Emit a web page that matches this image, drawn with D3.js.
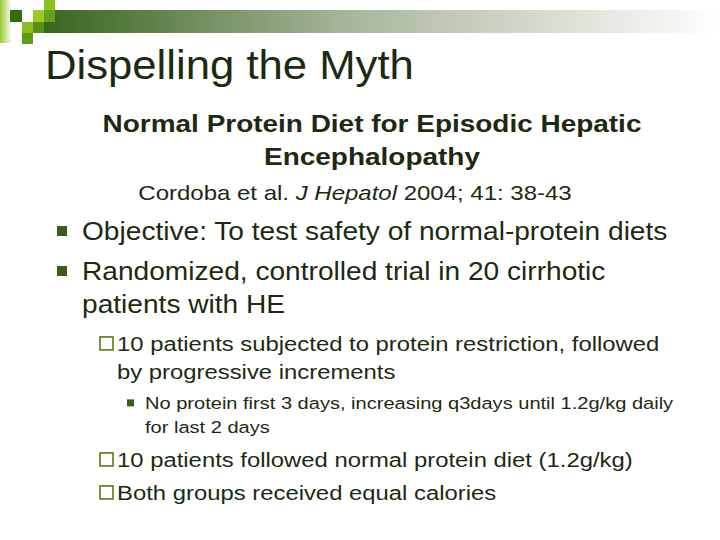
<!DOCTYPE html><html><head><meta charset="utf-8"><script src="https://cdn.jsdelivr.net/npm/d3@7"></script>
<style>body{margin:0;background:#fff}</style></head><body><script>
const titleText = "Dispelling the Myth";
const subtitleLines = ["Normal Protein Diet for Episodic Hepatic", "Encephalopathy"];
const citationParts = [["Cordoba et al. ", "normal"], ["J Hepatol", "italic"], [" 2004; 41: 38-43", "normal"]];
const bulletLines = [
  {lvl:1, bullet:true, text:"Objective: To test safety of normal-protein diets", y:240},
  {lvl:1, bullet:true, text:"Randomized, controlled trial in 20 cirrhotic", y:280},
  {lvl:1, bullet:false, text:"patients with HE", y:313},
  {lvl:2, bullet:true, text:"10 patients subjected to protein restriction, followed", y:351},
  {lvl:2, bullet:false, text:"by progressive increments", y:379},
  {lvl:3, bullet:true, text:"No protein first 3 days, increasing q3days until 1.2g/kg daily", y:409},
  {lvl:3, bullet:false, text:"for last 2 days", y:433},
  {lvl:2, bullet:true, text:"10 patients followed normal protein diet (1.2g/kg)", y:467},
  {lvl:2, bullet:true, text:"Both groups received equal calories", y:500}
];
const svg = d3.select("body").append("svg").attr("width",720).attr("height",540).style("font-family","Liberation Sans, Arial, sans-serif");
const defs = svg.append("defs");
const g1 = defs.append("linearGradient").attr("id","bar");
g1.append("stop").attr("offset","0").attr("stop-color","#35641a");
g1.append("stop").attr("offset","0.45").attr("stop-color","#a7b49a");
g1.append("stop").attr("offset","1").attr("stop-color","#ffffff");
const g2 = defs.append("linearGradient").attr("id","side");
g2.append("stop").attr("offset","0").attr("stop-color","#9acd32");
g2.append("stop").attr("offset","1").attr("stop-color","#ffffff");
svg.append("rect").attr("x",36).attr("y",10).attr("width",684).attr("height",23).attr("fill","url(#bar)");
svg.append("rect").attr("x",0).attr("y",0).attr("width",12).attr("height",43).attr("fill","url(#side)");
const sq=[[10,10,12,12,"#356a10"],[33,10,11,12,"#99cc22"],[44,0,11,10,"#8cc21e"],[44,10,11,12,"#66a020"],[22,22,11,11,"#88c020"],[33,22,11,11,"#5a9018"],[22,33,11,11,"#5f9a18"]];
svg.selectAll("rect.sq").data(sq).join("rect").attr("class","sq").attr("x",d=>d[0]).attr("y",d=>d[1]).attr("width",d=>d[2]).attr("height",d=>d[3]).attr("fill",d=>d[4]);
const ink="#1c2a12";
function T(x,y,sx){return svg.append("g").attr("transform",`translate(${x},${y}) scale(${sx},1)`).append("text").attr("fill",ink);}
T(45,79,1.065).attr("font-size",41).text(titleText);
subtitleLines.forEach((d,i)=>T(372,132+i*33,1.19).attr("text-anchor","middle").attr("font-size",23.5).attr("font-weight","bold").text(d));
const cit=T(355,200,1.2).attr("text-anchor","middle").attr("font-size",20);
cit.selectAll("tspan").data(citationParts).join("tspan").attr("font-style",d=>d[1]).text(d=>d[0]);
const cfg={1:{tx:82,bx:57,bs:10,fs:25,sx:1.125,fill:true},2:{tx:117,bx:99,bs:13,fs:21,sx:1.136,fill:false},3:{tx:145,bx:127,bs:7,fs:17,sx:1.18,fill:true}};
bulletLines.forEach(d=>{const c=cfg[d.lvl];
  T(c.tx,d.y,c.sx).attr("font-size",c.fs).text(d.text);
  if(d.bullet){const cy=d.y-c.fs*0.36;
    if(c.fill) svg.append("rect").attr("x",c.bx).attr("y",cy-c.bs/2).attr("width",c.bs).attr("height",c.bs).attr("fill","#3b5d17");
    else svg.append("rect").attr("x",c.bx+1).attr("y",cy-c.bs/2).attr("width",c.bs).attr("height",c.bs).attr("fill","none").attr("stroke","#6b8a2a").attr("stroke-width",1.8);}
});
</script></body></html>
